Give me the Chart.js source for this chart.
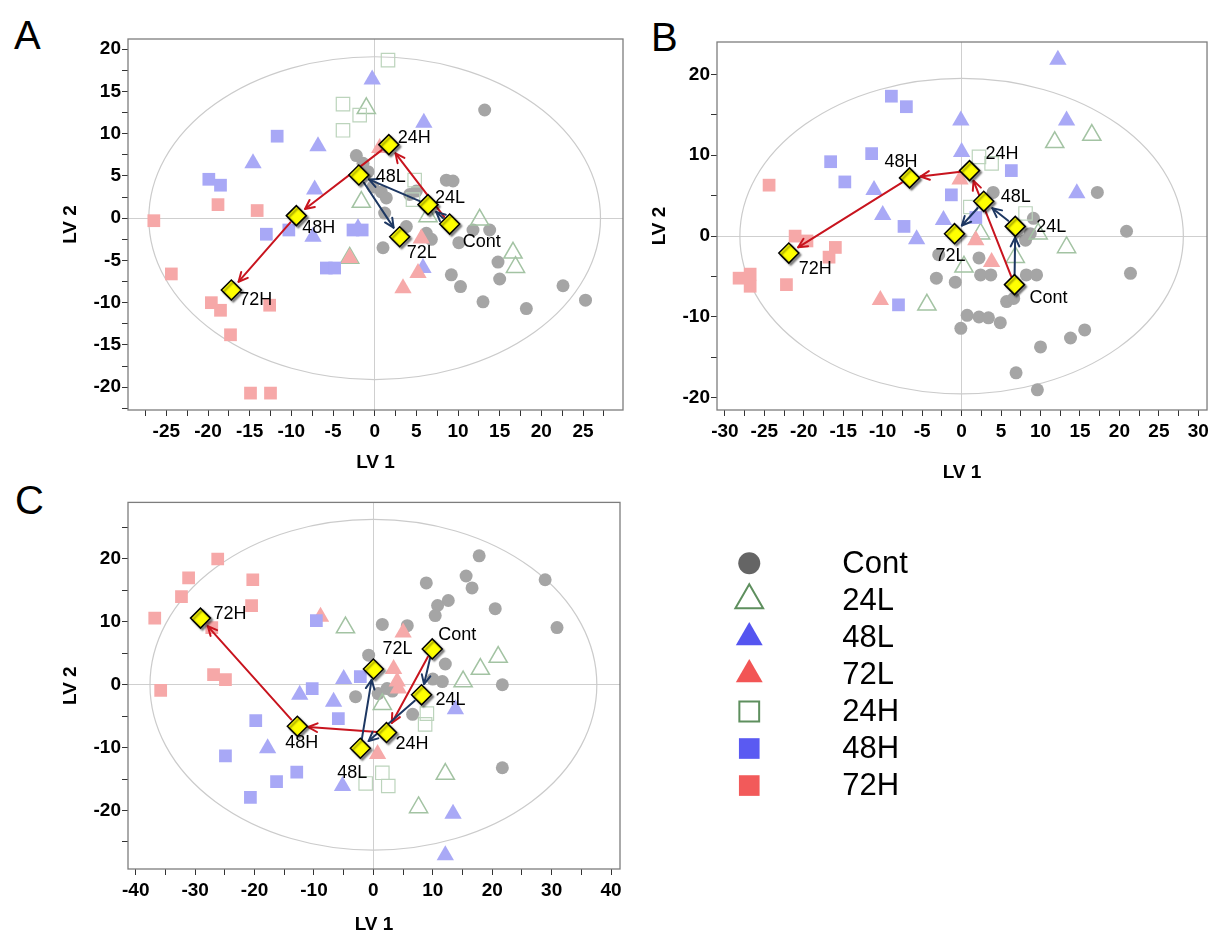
<!DOCTYPE html>
<html>
<head>
<meta charset="utf-8">
<script src="https://cdn.jsdelivr.net/npm/chart.js@4.4.1/dist/chart.umd.min.js"></script>
<style>
  body { margin: 0; background: #fff; width: 1213px; height: 934px; position: relative; overflow: hidden;
         font-family: "Liberation Sans", Arial, sans-serif; }
  canvas { position: absolute; }
  .letter { position: absolute; font-size: 40px; line-height: 1; color: #000; }
</style>
</head>
<body>
<div class="letter" style="left:14px;top:15px">A</div>
<div class="letter" style="left:651px;top:17px">B</div>
<div class="letter" style="left:15px;top:480px">C</div>

<canvas id="chartA" width="640" height="490" style="left:0;top:0"></canvas>
<canvas id="chartB" width="583" height="490" style="left:630px;top:0"></canvas>
<canvas id="chartC" width="640" height="444" style="left:0;top:490px"></canvas>
<canvas id="legend" width="300" height="300" style="left:690px;top:530px"></canvas>

<script>
const FONT = '"Liberation Sans", Arial, sans-serif';
const groupNames = ['Cont', '24L', '48L', '72L', '24H', '48H', '72H'];

// ---- Panel A ----
const contA = [[13.2,12.8],[-2.2,7.4],[-1.4,6.5],[-0.8,5.5],[8.6,4.5],[9.4,4.4],[-0.2,3.7],[0.8,3.1],[1.4,2.4],
  [4.2,2.8],[5.0,3.2],[1.2,0.6],[3.8,-1.0],[6.2,-1.8],[6.8,-2.5],[11.8,-1.4],[13.8,-1.4],[10.1,-2.9],[1.0,-3.5],
  [9.2,-6.7],[10.3,-8.1],[13.0,-9.9],[14.8,-5.2],[15.0,-7.2],[18.2,-10.7],[22.6,-8.0],[25.3,-9.7]];
const l24A = [[-1.0,13.0],[-1.6,1.9],[12.6,-0.2],[16.6,-4.1],[16.9,-5.8],[-3.0,-4.7],[6.4,0.2]];
const l48A = [[-0.3,16.4],[5.9,11.3],[-6.8,8.5],[-14.6,6.5],[-7.2,3.4],[-7.4,-2.2],[5.8,-5.9],[-2.0,-1.2]];
const l72A = [[0.6,8.3],[-3.0,-4.7],[5.6,-2.4],[5.2,-6.5],[3.4,-8.3]];
const h24A = [[1.6,18.7],[-3.8,13.5],[-1.8,12.2],[-3.8,10.4],[4.8,4.5],[4.6,2.2]];
const h48A = [[-11.7,9.7],[-19.9,4.6],[-18.5,3.9],[-13.0,-1.9],[-10.3,-1.4],[-2.6,-1.4],[-1.5,-1.4],[-5.8,-5.9],[-4.8,-5.9]];
const h72A = [[-18.8,1.6],[-14.1,0.9],[-26.5,-0.3],[-24.4,-6.6],[-19.6,-10.0],[-18.5,-10.9],[-12.6,-10.3],
  [-17.3,-13.8],[-14.9,-20.7],[-12.5,-20.7]];
const meansA = [[9.0,-0.7],[6.4,1.6],[-1.9,5.1],[3.0,-2.2],[1.7,8.7],[-9.4,0.3],[-17.2,-8.5]];
const xTicksA = [-25,-20,-15,-10,-5,0,5,10,15,20,25];
const yTicksA = [-20,-15,-10,-5,0,5,10,15,20];
const ellipseA = [27.1, 19.1];

// ---- Panel B ----
const contB = [[4.0,5.4],[17.2,5.4],[9.1,2.2],[20.9,0.6],[8.1,-0.5],[8.7,0.3],[-2.9,-2.3],[2.2,-2.7],[2.4,-4.8],
  [3.7,-4.8],[8.2,-4.8],[9.5,-4.8],[-3.2,-5.2],[-0.8,-5.7],[5.7,-8.1],[6.6,-7.7],[21.4,-4.6],[0.7,-9.8],[2.2,-10.0],
  [3.4,-10.1],[4.9,-10.7],[-0.1,-11.4],[10.0,-13.7],[13.8,-12.6],[15.6,-11.6],[6.9,-16.9],[9.6,-19.0]];
const l24B = [[11.8,11.6],[16.5,12.5],[2.4,0.3],[9.7,0.3],[13.3,-1.4],[6.8,-2.6],[0.3,-3.8],[-4.4,-8.5]];
const l48B = [[12.2,21.8],[-0.1,14.3],[13.3,14.3],[0.0,10.4],[14.6,5.3],[-11.1,5.7],[-10.0,2.6],[-2.3,2.0],[-5.7,-0.4]];
const l72B = [[-0.2,7.0],[1.8,-0.5],[3.8,-3.2],[-10.3,-7.9]];
const h24B = [[2.2,9.8],[3.8,9.0],[1.1,3.6],[8.1,2.8]];
const h48B = [[-8.9,17.3],[-7.0,16.0],[-16.6,9.2],[-14.8,6.7],[-11.4,10.2],[-7.3,1.2],[6.3,8.1],[-1.3,5.1],[-8.0,-8.5],[1.8,2.3]];
const h72B = [[-24.4,6.3],[-21.1,0.0],[-19.6,-0.6],[-16.0,-1.4],[-16.8,-2.6],[-28.2,-5.2],[-26.8,-4.7],[-26.8,-6.2],[-22.2,-6.0]];
const meansB = [[6.7,-6.0],[6.8,1.2],[2.8,4.3],[-0.9,0.3],[1.0,8.1],[-6.6,7.2],[-21.9,-2.1]];
const xTicksB = [-30,-25,-20,-15,-10,-5,0,5,10,15,20,25,30];
const yTicksB = [-20,-10,0,10,20];
const ellipseB = [28.1, 19.5];

// ---- Panel C ----
const contC = [[17.8,20.5],[28.9,16.7],[8.9,16.2],[15.6,17.3],[16.6,15.4],[12.6,13.4],[10.8,12.6],[10.4,11.0],
  [20.5,12.1],[30.9,9.1],[1.5,9.6],[5.7,9.4],[-0.8,4.7],[12.1,3.3],[21.7,0.0],[10.0,0.9],[11.6,0.5],[-3.0,-1.9],
  [0.8,-1.4],[2.3,-0.6],[3.2,-1.0],[6.6,-4.7],[21.7,-13.2]];
const l24C = [[-4.7,9.1],[21.0,4.4],[18.0,2.5],[15.1,0.5],[1.5,-3.1],[12.1,-14.2],[7.6,-19.5]];
const l48C = [[-5.0,0.9],[-6.7,-2.7],[-12.4,-1.6],[-17.8,-10.1],[-5.2,-16.1],[13.8,-3.9],[13.4,-20.5],[12.1,-27.1]];
const l72C = [[-8.9,10.8],[5.0,8.3],[3.4,2.5],[4.0,0.5],[4.2,-0.6],[0.7,-11.0]];
const h24C = [[9.0,-4.6],[8.7,-6.3],[1.5,-14.0],[-1.3,-15.7],[2.5,-16.1]];
const h48C = [[-9.6,10.2],[-10.3,-0.6],[-2.2,1.3],[-5.9,-5.4],[-19.8,-5.7],[-24.9,-11.3],[-12.9,-13.9],[-16.3,-15.4],[-20.7,-17.9]];
const h72C = [[-26.2,20.0],[-31.1,17.0],[-32.3,14.0],[-20.3,16.7],[-20.5,12.6],[-36.8,10.6],[-27.2,9.1],
  [-26.9,1.6],[-24.9,0.8],[-35.8,-0.9]];
const meansC = [[9.9,5.7],[8.1,-1.6],[-2.2,-10.1],[0.0,2.5],[2.2,-7.6],[-12.8,-6.6],[-29.1,10.6]];
const xTicksC = [-40,-30,-20,-10,0,10,20,30,40];
const yTicksC = [-20,-10,0,10,20];
const ellipseC = [37.6, 26.3];

// trajectories between group means
const redPath = ['Cont', '24H', '48H', '72H'];
const bluePath = ['Cont', '24L', '48L', '72L'];

// marker look per group (panels are lighter than the legend)
const groupStyle = {
  'Cont': { shape: 'circle',   r: 6.5,  fill: '#a5a5a5', line: '#a5a5a5', w: 0 },
  '24L':  { shape: 'triangle', r: 10.5, fill: 'rgba(255,255,255,0)', line: '#a3c3a3', w: 1.5 },
  '48L':  { shape: 'triangle', r: 10,   fill: '#a9a9f6', line: '#a9a9f6', w: 0 },
  '72L':  { shape: 'triangle', r: 10,   fill: '#f6a9a9', line: '#f6a9a9', w: 0 },
  '24H':  { shape: 'rect',     r: 9.5,  fill: 'rgba(255,255,255,0)', line: '#bcd4bc', w: 1.2 },
  '48H':  { shape: 'rect',     r: 9,    fill: '#a8a8f6', line: '#a8a8f6', w: 0 },
  '72H':  { shape: 'rect',     r: 9,    fill: '#f6a8a8', line: '#f6a8a8', w: 0 }
};
const legendStyle = {
  'Cont': { shape: 'circle',   r: 11,   fill: '#656565', line: '#656565', w: 0 },
  '24L':  { shape: 'triangle', r: 16,   fill: 'rgba(255,255,255,0)', line: '#5e8f5e', w: 2 },
  '48L':  { shape: 'triangle', r: 15.5, fill: '#5555f0', line: '#5555f0', w: 0 },
  '72L':  { shape: 'triangle', r: 15.5, fill: '#f25555', line: '#f25555', w: 0 },
  '24H':  { shape: 'rect',     r: 14,   fill: 'rgba(255,255,255,0)', line: '#5e8f5e', w: 2 },
  '48H':  { shape: 'rect',     r: 14.6, fill: '#5a5af2', line: '#5a5af2', w: 0 },
  '72H':  { shape: 'rect',     r: 14.6, fill: '#f25a5a', line: '#f25a5a', w: 0 }
};

function drawArrow(ctx, x1, y1, x2, y2, color) {
  const dx = x2 - x1, dy = y2 - y1, len = Math.hypot(dx, dy);
  const ux = dx / len, uy = dy / len;
  const sx = x1 + ux * 9, sy = y1 + uy * 9;
  const ex = x2 - ux * 11, ey = y2 - uy * 11;
  const a = Math.atan2(dy, dx), h = 10, spread = 0.45;
  ctx.strokeStyle = color;
  ctx.lineWidth = 2;
  ctx.lineCap = 'round';
  ctx.lineJoin = 'round';
  ctx.beginPath();
  ctx.moveTo(sx, sy);
  ctx.lineTo(ex, ey);
  ctx.stroke();
  ctx.beginPath();
  ctx.moveTo(ex - h * Math.cos(a - spread), ey - h * Math.sin(a - spread));
  ctx.lineTo(ex, ey);
  ctx.lineTo(ex - h * Math.cos(a + spread), ey - h * Math.sin(a + spread));
  ctx.stroke();
}

// ellipse, frame, arrows and labels
const panelDecor = {
  id: 'panelDecor',
  beforeDatasetsDraw(chart, args, opts) {
    const { ctx, chartArea: a, scales: { x, y } } = chart;
    ctx.save();
    const cx = x.getPixelForValue(0), cy = y.getPixelForValue(0);
    const rx = Math.abs(x.getPixelForValue(opts.ellipse[0]) - cx);
    const ry = Math.abs(y.getPixelForValue(opts.ellipse[1]) - cy);
    ctx.beginPath();
    ctx.ellipse(cx, cy, rx, ry, 0, 0, Math.PI * 2);
    ctx.strokeStyle = '#cbcbcb';
    ctx.lineWidth = 1.2;
    ctx.stroke();
    ctx.strokeStyle = '#7d7d7d';
    ctx.lineWidth = 1.3;
    ctx.strokeRect(a.left, a.top, a.right - a.left, a.bottom - a.top);
    ctx.restore();
  },
  beforeDatasetDraw(chart, args, opts) {
    if (args.index !== 0) return;
    const { ctx, scales: { x, y } } = chart;
    const px = name => {
      const m = opts.means[groupNames.indexOf(name)];
      return [x.getPixelForValue(m[0]), y.getPixelForValue(m[1])];
    };
    ctx.save();
    [[redPath, '#c8141e'], [bluePath, '#1d3762']].forEach(([path, color]) => {
      for (let i = 0; i < path.length - 1; i++) {
        const p1 = px(path[i]), p2 = px(path[i + 1]);
        drawArrow(ctx, p1[0], p1[1], p2[0], p2[1], color);
      }
    });
    ctx.restore();
    ctx.save();
    ctx.shadowColor = 'rgba(0,0,0,0.45)';
    ctx.shadowOffsetX = 2;
    ctx.shadowOffsetY = 2;
    ctx.shadowBlur = 2;
  },
  afterDatasetDraw(chart, args) {
    if (args.index !== 0) return;
    chart.ctx.restore();
  },
  afterDatasetsDraw(chart, args, opts) {
    const { ctx, scales: { x, y } } = chart;
    ctx.save();
    ctx.font = '18px ' + FONT;
    ctx.fillStyle = '#000';
    ctx.textAlign = 'left';
    ctx.textBaseline = 'middle';
    groupNames.forEach((g, i) => {
      const m = opts.means[i], off = opts.labelOffsets[i];
      ctx.fillText(g, x.getPixelForValue(m[0]) + off[0], y.getPixelForValue(m[1]) + off[1]);
    });
    ctx.restore();
  }
};

function axis(ax) {
  return {
    type: 'linear',
    min: ax.min,
    max: ax.max,
    afterFit: s => { if (ax.horizontal) s.height = ax.size; else s.width = ax.size; },
    afterBuildTicks: s => {
      const vals = [];
      const start = Math.ceil(ax.min / ax.minor - 1e-9) * ax.minor;
      for (let v = start; v <= ax.max + 1e-9; v += ax.minor) vals.push({ value: Math.round(v * 100) / 100 });
      s.ticks = vals;
    },
    ticks: {
      autoSkip: false,
      maxRotation: 0,
      padding: ax.horizontal ? 4 : 1,
      color: '#000',
      font: { family: FONT, size: 19, weight: 'bold' },
      callback: v => (ax.majors.includes(v) ? String(v) : '')
    },
    grid: {
      drawOnChartArea: true,
      color: c => (c.tick && c.tick.value === 0 ? '#cfcfcf' : 'rgba(0,0,0,0)'),
      tickColor: '#333',
      tickLength: 6,
      lineWidth: 1
    },
    border: { display: false },
    title: {
      display: true,
      text: ax.title,
      color: '#000',
      font: { family: FONT, size: 19, weight: 'bold', lineHeight: 1 },
      padding: ax.horizontal ? { top: 0, bottom: ax.titlePad } : { top: ax.titlePad, bottom: 0 }
    }
  };
}

function buildPanel(id, p) {
  const series = { 'Cont': p.cont, '24L': p.l24, '48L': p.l48, '72L': p.l72, '24H': p.h24, '48H': p.h48, '72H': p.h72 };
  const datasets = [{
    label: 'means',
    data: p.means.map(([x, y]) => ({ x, y })),
    pointStyle: 'rectRot',
    pointRadius: 10,
    backgroundColor: '#ffff00',
    borderColor: '#000',
    borderWidth: 1.5
  }];
  ['72H', '48H', '72L', '48L', '24H', '24L', 'Cont'].forEach(g => {
    const s = groupStyle[g];
    datasets.push({
      label: g,
      data: series[g].map(([x, y]) => ({ x, y })),
      pointStyle: s.shape,
      pointRadius: s.r,
      backgroundColor: s.fill,
      borderColor: s.line,
      borderWidth: s.w
    });
  });
  return new Chart(document.getElementById(id), {
    type: 'scatter',
    data: { datasets },
    options: {
      responsive: false,
      animation: false,
      devicePixelRatio: 1,
      layout: { autoPadding: false, padding: { left: 0, top: p.padTop, right: p.padRight, bottom: 0 } },
      scales: { x: axis(p.x), y: axis(p.y) },
      plugins: {
        legend: { display: false },
        tooltip: { enabled: false },
        panelDecor: { ellipse: p.ellipse, means: p.means, labelOffsets: p.labelOffsets }
      }
    },
    plugins: [panelDecor]
  });
}

buildPanel('chartA', {
  cont: contA, l24: l24A, l48: l48A, l72: l72A, h24: h24A, h48: h48A, h72: h72A, means: meansA, ellipse: ellipseA,
  padTop: 39, padRight: 17,
  x: { horizontal: true, min: -29.6, max: 29.8, minor: 2.5, majors: xTicksA, title: 'LV 1', size: 80, titlePad: 17.5 },
  y: { horizontal: false, min: -22.7, max: 21.2, minor: 2.5, majors: yTicksA, title: 'LV 2', size: 128, titlePad: 61 },
  labelOffsets: [[13, 18], [7, -7], [17, 2], [7, 16], [9, -7], [6, 12], [8, 10]]
});

buildPanel('chartB', {
  cont: contB, l24: l24B, l48: l48B, l72: l72B, h24: h24B, h48: h48B, h72: h72B, means: meansB, ellipse: ellipseB,
  padTop: 42, padRight: 5,
  x: { horizontal: true, min: -31, max: 31.1, minor: 2.5, majors: xTicksB, title: 'LV 1', size: 80, titlePad: 8 },
  y: { horizontal: false, min: -21.5, max: 24, minor: 5, majors: yTicksB, title: 'LV 2', size: 87, titlePad: 20.5 },
  labelOffsets: [[15, 13], [21, 1], [17, -4], [-19, 22], [16, -17], [-25, -16], [10, 16]]
});

buildPanel('chartC', {
  cont: contC, l24: l24C, l48: l48C, l72: l72C, h24: h24C, h48: h48C, h72: h72C, means: meansC, ellipse: ellipseC,
  padTop: 9, padRight: 20,
  x: { horizontal: true, min: -41.3, max: 41.5, minor: 5, majors: xTicksC, title: 'LV 1', size: 65, titlePad: 0 },
  y: { horizontal: false, min: -29.3, max: 29, minor: 5, majors: yTicksC, title: 'LV 2', size: 128, titlePad: 61 },
  labelOffsets: [[6, -14], [14, 5], [-23, 25], [9, -20], [9, 11], [-12, 17], [13, -4]]
});

// ---- legend ----
const legendText = {
  id: 'legendText',
  afterDatasetsDraw(chart) {
    const { ctx, scales: { x, y } } = chart;
    ctx.save();
    ctx.font = '31px ' + FONT;
    ctx.fillStyle = '#000';
    ctx.textAlign = 'left';
    ctx.textBaseline = 'middle';
    groupNames.forEach((g, i) => ctx.fillText(g, x.getPixelForValue(0) + 93, y.getPixelForValue(i) + 1));
    ctx.restore();
  }
};

new Chart(document.getElementById('legend'), {
  type: 'scatter',
  data: {
    datasets: [{
      data: groupNames.map((g, i) => ({ x: 0, y: i })),
      pointStyle: groupNames.map(g => legendStyle[g].shape),
      pointRadius: groupNames.map(g => legendStyle[g].r),
      backgroundColor: groupNames.map(g => legendStyle[g].fill),
      borderColor: groupNames.map(g => legendStyle[g].line),
      borderWidth: groupNames.map(g => legendStyle[g].w)
    }]
  },
  options: {
    responsive: false,
    animation: false,
    devicePixelRatio: 1,
    layout: { autoPadding: false, padding: 0 },
    scales: {
      x: { display: false, min: -1.6, max: 6.5 },
      y: { display: false, reverse: true, min: -0.9, max: 7.2 }
    },
    plugins: { legend: { display: false }, tooltip: { enabled: false } }
  },
  plugins: [legendText]
});
</script>
</body>
</html>
